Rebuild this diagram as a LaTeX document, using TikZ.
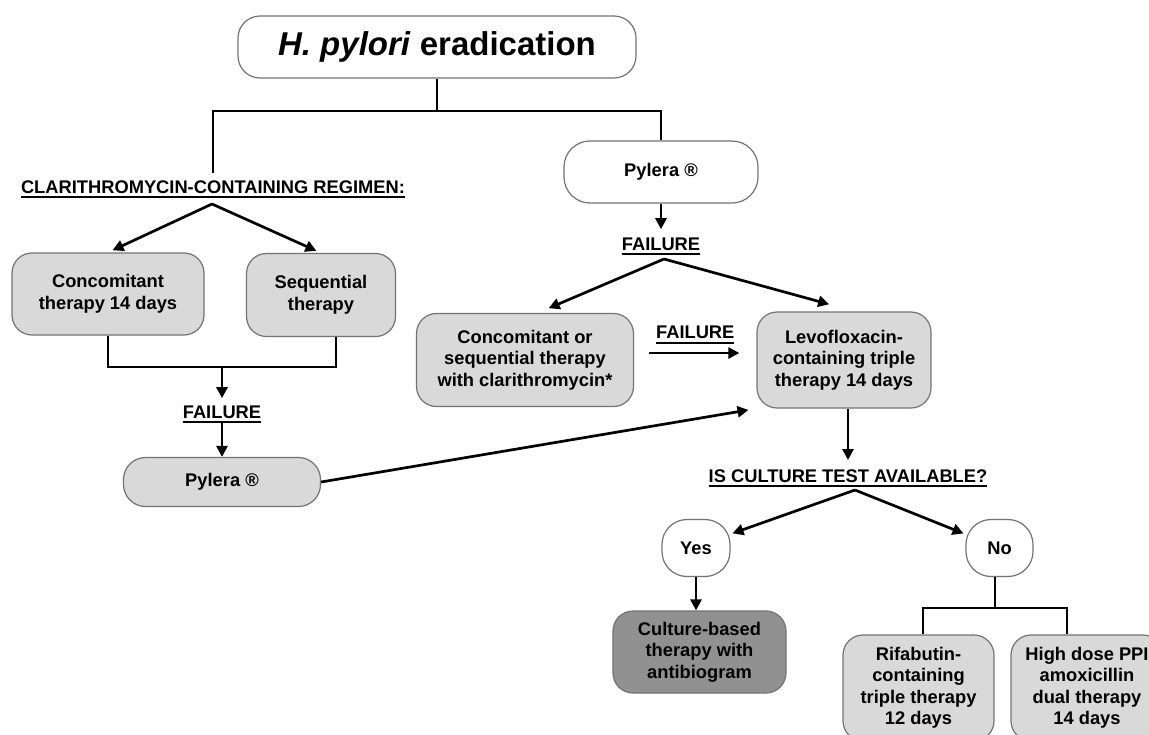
\documentclass[tikz,border=0pt]{standalone}
\usepackage{fontspec}
\setmainfont{Liberation Sans}
\usetikzlibrary{arrows.meta,positioning}

\definecolor{boxgray}{gray}{0.85}
\definecolor{cultgray}{gray}{0.57}
\definecolor{edgegray}{gray}{0.45}

% thick underline for the headings
\newcommand{\ulined}[1]{\setbox0\hbox{#1}\copy0\llap{\rule[-5pt]{\wd0}{1.6pt}}}

\tikzset{
    every node/.style={font=\fontsize{18.3}{21.5}\selectfont\bfseries},
    therapy/.style={draw=edgegray, line width=1.2pt, fill=boxgray, rounded corners=20pt,
        align=center, inner sep=0pt},
    answer/.style={therapy, fill=white, minimum width=68pt, minimum height=57pt, rounded corners=25pt},
    heading/.style={inner sep=0pt, anchor=base},
    conn/.style={line width=2.7pt},
    arr/.style={conn, -{Triangle[length=11pt, width=11pt]}}
}

\begin{document}
\begin{tikzpicture}[x=1pt, y=-1pt]
    \useasboundingbox (0,0) rectangle (1149,734);
    \clip (0,0) rectangle (1149,734);
    \fill[white] (0,0) rectangle (1149,734);

    % Top
    \node[therapy, fill=white, minimum width=398pt, minimum height=62pt, rounded corners=22pt,
    font=\fontsize{33}{38}\selectfont\bfseries] (title) at (437,47) {\textit{H. pylori} eradication};
    \coordinate (topfork) at (437,111);

    % Clarithromycin branch
    \node[heading] (clar) at (213,193) {\ulined{CLARITHROMYCIN-CONTAINING REGIMEN:}};
    \node[therapy, minimum width=192pt, minimum height=82pt] (conc) at (108,294)
        {Concomitant\\therapy 14 days};
    \node[therapy, minimum width=149pt, minimum height=83pt] (seq) at (321,295)
        {Sequential\\therapy};
    \node[heading] (fail2) at (222,418) {\ulined{FAILURE}};
    \node[therapy, minimum width=197pt, minimum height=49pt, rounded corners=22pt] (pyl2) at (222,482)
        {Pylera ®};
    \coordinate (clarfork) at (212,204);
    \coordinate (clarjoin) at (222,367);

    % Pylera branch
    \node[therapy, fill=white, minimum width=194pt, minimum height=62pt, rounded corners=26pt] (pyl1)
        at (661,172) {Pylera ®};
    \node[heading] (fail1) at (661,250) {\ulined{FAILURE}};
    \node[therapy, minimum width=217pt, minimum height=93pt] (conseq) at (525,360)
        {Concomitant or\\sequential therapy\\with clarithromycin*};
    \node[therapy, minimum width=174pt, minimum height=96pt] (levo) at (844,360)
        {Levofloxacin-\\containing triple\\therapy 14 days};
    \coordinate (pylfork) at (664,259);

    % Culture test
    \node[heading] (culq) at (848,482) {\ulined{IS CULTURE TEST AVAILABLE?}};
    \node[answer] (yes) at (696,548) {Yes};
    \node[answer, minimum width=67pt] (no) at (999.5,548) {No};
    \node[therapy, fill=cultgray, minimum width=173pt, minimum height=82pt] (cult) at (699.5,652)
        {Culture-based\\therapy with\\antibiogram};
    \node[therapy, minimum width=151pt, minimum height=106pt] (rif) at (918.5,688)
        {Rifabutin-\\containing\\triple therapy\\12 days};
    \node[therapy, minimum width=152pt, minimum height=106pt] (high) at (1087,688)
        {High dose PPI\\amoxicillin\\dual therapy\\14 days};
    \coordinate (culfork) at (855,490);
    \coordinate (nofork) at (995,608);

    % Connectors
    \draw[conn] (title.south) -- (topfork);
    \draw[conn, shorten <=7pt] (clar.north) |- (topfork) -| (pyl1.north);

    \draw[arr, shorten >=5pt] (clarfork) -- (conc.north);
    \draw[arr, shorten >=5pt] (clarfork) -- (seq.north);
    \draw[conn] (conc.south) |- (clarjoin) -| ([xshift=15pt]seq.south);
    \draw[arr, shorten >=7pt] (clarjoin) -- (fail2.north);
    \draw[arr] (fail2.south) -- (pyl2.north);
    \draw[arr, shorten >=8pt] (pyl2.east) -- (levo.south west);

    \draw[arr, shorten >=8pt] (pyl1.south) -- (fail1.north);
    \draw[arr, shorten >=12pt] (pylfork) -- (conseq.75);
    \draw[arr, shorten >=27pt] (pylfork) -- (levo.77);
    \draw[arr, shorten <=15pt, shorten >=17pt] ([yshift=7pt]conseq.east) --
        node[heading, anchor=south, above=8pt] (fail3) {\ulined{FAILURE}} ([yshift=7pt]levo.west);

    \draw[arr, shorten >=9pt] (culq.north |- levo.south) -- (culq.north);
    \draw[arr, shorten >=2pt] (culfork) -- (yes.22);
    \draw[arr, shorten >=2pt] (culfork) -- (no.158);
    \draw[arr] (yes.south) -- (yes.south |- cult.north);
    \draw[conn] (nofork |- no.south) -- (nofork);
    \draw[conn] ([xshift=4.5pt]rif.north) |- (nofork) -| ([xshift=-20pt]high.north);

\end{tikzpicture}
\end{document}
